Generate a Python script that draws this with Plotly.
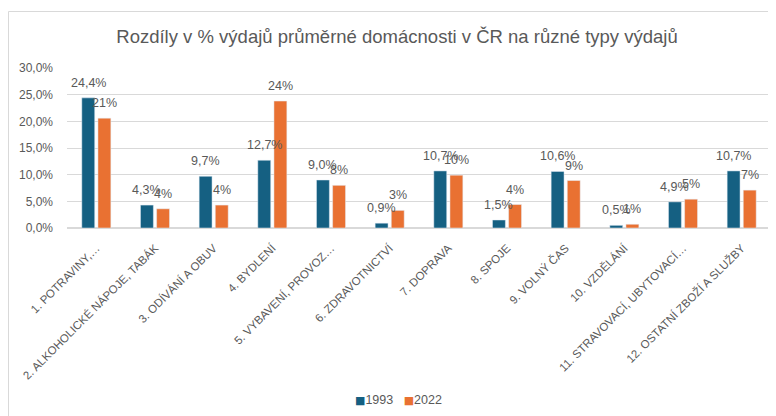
import plotly.graph_objects as go

categories = [
    "1. POTRAVINY,…",
    "2. ALKOHOLICKÉ NÁPOJE, TABÁK",
    "3. ODÍVÁNÍ A OBUV",
    "4. BYDLENÍ",
    "5. VYBAVENÍ, PROVOZ…",
    "6. ZDRAVOTNICTVÍ",
    "7. DOPRAVA",
    "8. SPOJE",
    "9. VOLNÝ ČAS",
    "10. VZDĚLÁNÍ",
    "11. STRAVOVACÍ, UBYTOVACÍ…",
    "12. OSTATNÍ ZBOŽÍ A SLUŽBY",
]
values_1993 = [24.4, 4.3, 9.7, 12.7, 9.0, 0.9, 10.7, 1.5, 10.6, 0.5, 4.9, 10.7]
values_2022 = [20.6, 3.6, 4.3, 23.8, 8.0, 3.3, 9.9, 4.4, 8.9, 0.7, 5.4, 7.1]
y_ticks = [0, 5, 10, 15, 20, 25, 30]
y_tick_labels = ["0,0%", "5,0%", "10,0%", "15,0%", "20,0%", "25,0%", "30,0%"]

TXT = "#595959"
FONT = "Liberation Sans"
C1993 = "#156082"
C2022 = "#E97132"

# page has an 8px body margin; work in page pixels and convert
OFF = 8
W, H = 776 - OFF, 416 - OFF
PLOT_L, PLOT_R, PLOT_T, PLOT_B = 67, 771, 68, 228   # page pixels
ML, MR = PLOT_L - OFF, W - (PLOT_R - OFF)
MT, MB = PLOT_T - OFF, H - (PLOT_B - OFF)
PW, PH = PLOT_R - PLOT_L, PLOT_B - PLOT_T
BARGAP, GROUPGAP = 0.45, 0.2

def px_x(p):
    return (p - PLOT_L) / PW

def px_y(p):
    return (PLOT_B - p) / PH

fig = go.Figure()
fig.add_trace(go.Bar(name="1993", x=categories, y=values_1993, marker_color=C1993))
fig.add_trace(go.Bar(name="2022", x=categories, y=values_2022, marker_color=C2022))

# data labels placed above bars
slot = PW / len(categories) * (1 - BARGAP) / 2
lab_font = dict(size=12.5, color=TXT, family=FONT)
for c, v in zip(categories, values_1993):
    fig.add_annotation(x=c, y=v, xref="x", yref="y", text=f"{v:.1f}%".replace(".", ","),
                       showarrow=False, xshift=-slot / 2, yshift=15, yanchor="middle",
                       font=lab_font)
for c, v in zip(categories, values_2022):
    fig.add_annotation(x=c, y=v, xref="x", yref="y", text=f"{v:.0f}%",
                       showarrow=False, xshift=slot / 2, yshift=15, yanchor="middle",
                       font=lab_font)

# compact legend like the original (small squares close to the text)
fig.add_annotation(
    xref="paper", yref="paper", x=px_x(398), y=px_y(400), xanchor="center", yanchor="middle",
    showarrow=False, font=dict(size=12.5, color=TXT, family=FONT),
    text=(f'<span style="color:{C1993};font-family:DejaVu Sans;font-size:11px">■</span>1993'
          f'   <span style="color:{C2022};font-family:DejaVu Sans;font-size:11px">■</span>2022'),
)

fig.update_layout(
    width=W, height=H,
    margin=dict(l=ML, r=MR, t=MT, b=MB, autoexpand=False),
    paper_bgcolor="white", plot_bgcolor="white",
    font=dict(family=FONT, color=TXT),
    barmode="group", bargap=BARGAP, bargroupgap=GROUPGAP,
    title=dict(text="Rozdíly v % výdajů průměrné domácnosti v ČR na různé typy výdajů",
               x=(397 - OFF) / W, xanchor="center", y=1 - (37 - OFF) / H, yanchor="middle",
               font=dict(size=18.5, color=TXT, family=FONT)),
    showlegend=False,
)
fig.update_yaxes(range=[0, 30], tickvals=y_ticks, ticktext=y_tick_labels,
                 showgrid=True, gridcolor="#D9D9D9", gridwidth=1, zeroline=True,
                 zerolinecolor="#D9D9D9", showline=False, ticks="", automargin=False,
                 tickfont=dict(size=12, color=TXT, family=FONT), ticklabelstandoff=13)
fig.update_xaxes(tickangle=-45, tickfont=dict(size=11.5, color=TXT, family=FONT),
                 showline=True, linecolor="#D9D9D9", ticks="", showgrid=False,
                 automargin=False, ticklabelstandoff=8)

border = dict(color="#D9D9D9", width=1)
fig.add_shape(type="line", xref="paper", yref="paper",
              x0=px_x(8.5), x1=px_x(790), y0=px_y(11.5), y1=px_y(11.5), line=border)
fig.add_shape(type="line", xref="paper", yref="paper",
              x0=px_x(8.5), x1=px_x(8.5), y0=px_y(11.5), y1=px_y(430), line=border)

fig.write_html("out.html")
